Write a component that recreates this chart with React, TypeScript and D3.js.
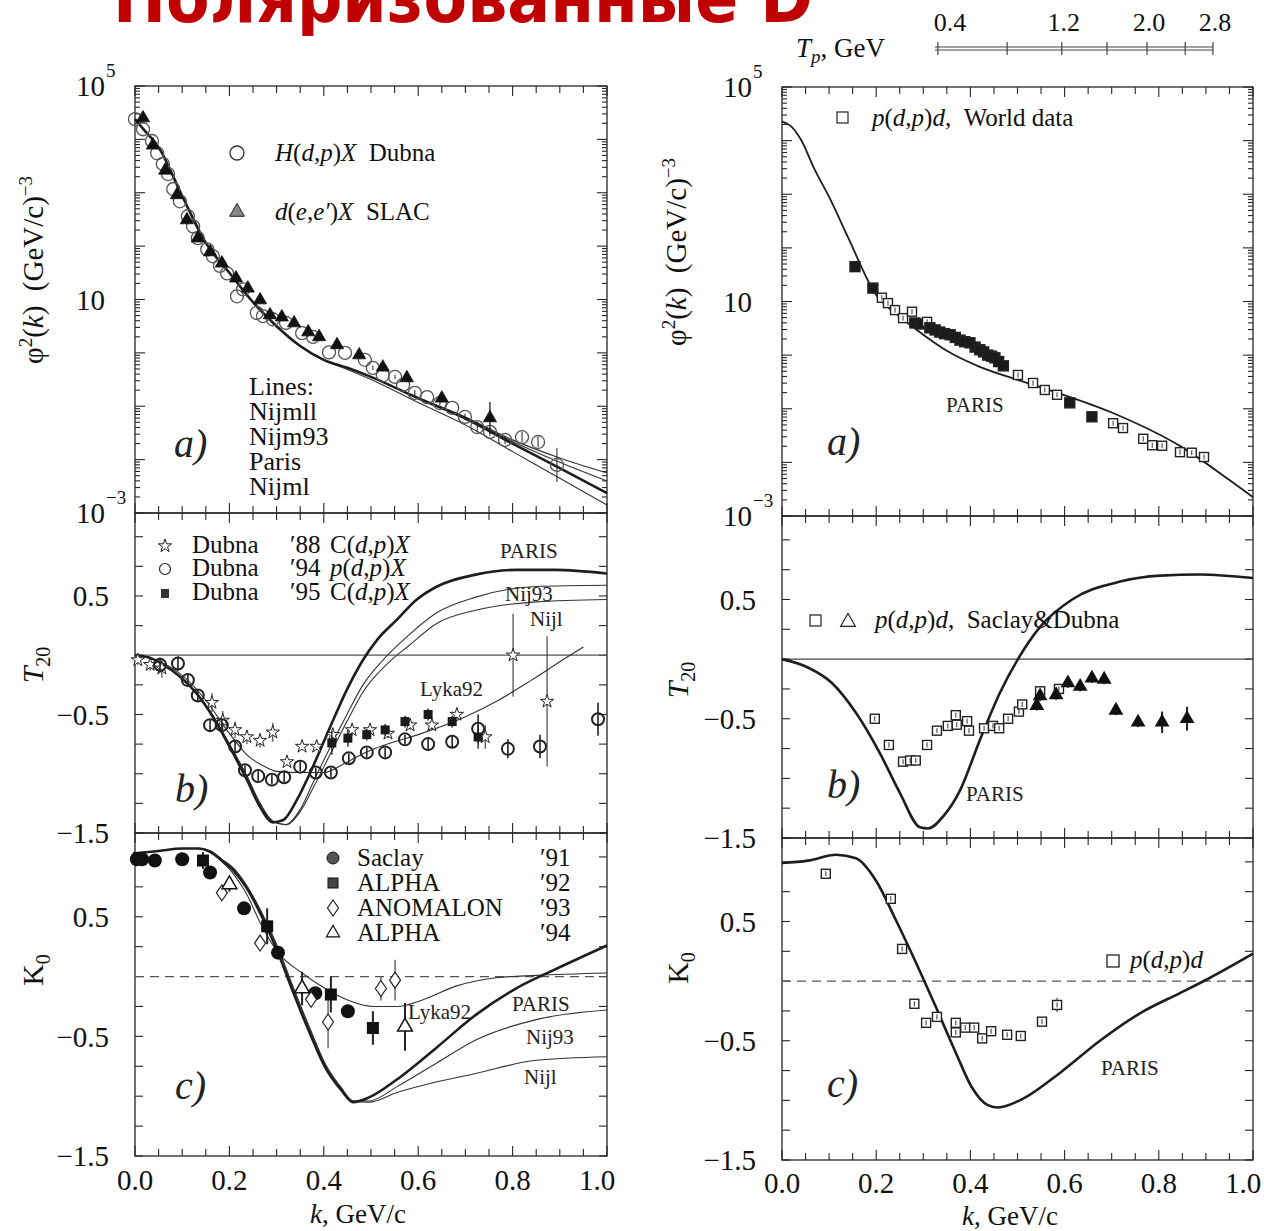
import React from "react";
import * as d3 from "d3";

const FONT = "'Liberation Serif','Times New Roman',serif";
const INK = "#262626";

// ===================== DATA =====================
// ---- Left (a): φ²(k), values given as log10 ----
const kLA = [0, 0.02, 0.05, 0.1, 0.15, 0.2, 0.25, 0.3, 0.35, 0.4, 0.45, 0.5, 0.6, 0.7, 0.8, 0.9, 1.0];
const parisLA = [4.38, 4.17, 3.85, 2.94, 2.06, 1.5, 0.95, 0.5, 0.13, -0.13, -0.28, -0.45, -0.85, -1.23, -1.7, -2.16, -2.63];
const nijmlLA = [4.38, 4.17, 3.85, 2.94, 2.06, 1.5, 0.95, 0.5, 0.13, -0.14, -0.31, -0.5, -0.93, -1.35, -1.85, -2.35, -2.85];
const nijm93LA = [4.38, 4.17, 3.85, 2.94, 2.06, 1.5, 0.95, 0.5, 0.13, -0.13, -0.28, -0.45, -0.84, -1.21, -1.66, -2.05, -2.4];
const nijmllLA = [4.38, 4.17, 3.85, 2.94, 2.06, 1.5, 0.95, 0.5, 0.13, -0.13, -0.28, -0.45, -0.84, -1.2, -1.63, -1.97, -2.25];

const dubnaK = [0.0, 0.017, 0.036, 0.047, 0.059, 0.07, 0.081, 0.095, 0.112, 0.123, 0.133, 0.153, 0.165, 0.18, 0.195, 0.216, 0.229, 0.258, 0.271, 0.292, 0.32, 0.354, 0.377, 0.411, 0.445, 0.487, 0.504, 0.525, 0.551, 0.568, 0.593, 0.619, 0.646, 0.672, 0.699, 0.725, 0.752, 0.784, 0.82, 0.854, 0.894];
const dubnaLog = [4.38, 4.19, 3.97, 3.74, 3.54, 3.35, 3.07, 2.84, 2.56, 2.37, 2.15, 1.94, 1.81, 1.63, 1.49, 1.06, 1.19, 0.75, 0.69, 0.63, 0.56, 0.37, 0.3, 0.01, 0.0, -0.13, -0.28, -0.42, -0.45, -0.6, -0.75, -0.83, -0.94, -1.03, -1.2, -1.39, -1.48, -1.63, -1.58, -1.67, -2.1];
const dubnaErr = [0, 0, 0, 0, 0, 0, 0, 0, 0, 0, 0, 0, 0, 0, 0, 0, 0, 0, 0, 0, 0, 0, 0, 0, 0, 0, 0.04, 0, 0.04, 0, 0.05, 0, 0.05, 0, 0.06, 0.1, 0.08, 0.08, 0.1, 0.1, 0.32];

const slacK = [0.017, 0.038, 0.064, 0.089, 0.11, 0.133, 0.159, 0.184, 0.214, 0.239, 0.265, 0.286, 0.311, 0.337, 0.367, 0.39, 0.428, 0.475, 0.525, 0.576, 0.65, 0.752];
const slacLog = [4.4, 3.89, 3.42, 2.96, 2.49, 2.15, 1.89, 1.68, 1.4, 1.21, 0.99, 0.71, 0.67, 0.56, 0.39, 0.3, 0.15, -0.04, -0.27, -0.47, -0.85, -1.22];
const slacErr = [0, 0, 0, 0, 0, 0, 0, 0, 0, 0, 0, 0, 0, 0, 0, 0, 0, 0, 0, 0, 0.08, 0.3];

// ---- Right (a) ----
const kRA = [0, 0.02, 0.04, 0.07, 0.1, 0.14, 0.2, 0.25, 0.3, 0.35, 0.42, 0.5, 0.56, 0.7, 0.85, 0.95, 1.0];
const parisRA = [4.36, 4.26, 4.02, 3.45, 2.95, 2.2, 1.12, 0.72, 0.38, 0.08, -0.22, -0.46, -0.63, -1.07, -1.72, -2.33, -2.65];
const worldK = [0.155, 0.193, 0.212, 0.225, 0.24, 0.257, 0.276, 0.282, 0.295, 0.308, 0.314, 0.325, 0.335, 0.345, 0.357, 0.368, 0.378, 0.388, 0.399, 0.41, 0.42, 0.428, 0.437, 0.445, 0.452, 0.46, 0.47, 0.501, 0.533, 0.558, 0.584, 0.611, 0.658, 0.703, 0.724, 0.767, 0.786, 0.807, 0.845, 0.87, 0.896];
const worldLog = [1.65, 1.25, 1.07, 0.97, 0.84, 0.69, 0.81, 0.6, 0.58, 0.62, 0.51, 0.47, 0.43, 0.4, 0.38, 0.33, 0.28, 0.25, 0.23, 0.15, 0.1, 0.06, 0.0, -0.02, -0.05, -0.12, -0.2, -0.37, -0.52, -0.65, -0.74, -0.89, -1.15, -1.27, -1.36, -1.56, -1.68, -1.69, -1.81, -1.82, -1.9];
const worldFilled = [1, 1, 0, 0, 0, 0, 0, 1, 1, 0, 1, 1, 1, 1, 1, 1, 1, 1, 1, 1, 1, 1, 1, 1, 1, 1, 1, 0, 0, 0, 0, 1, 1, 0, 0, 0, 0, 0, 0, 0, 0];

// ---- Left (b): T20 ----
const kParisLB = [0, 0.03, 0.06, 0.095, 0.13, 0.165, 0.2, 0.237, 0.265, 0.292, 0.314, 0.343, 0.377, 0.413, 0.449, 0.483, 0.513, 0.555, 0.597, 0.64, 0.722, 0.807, 0.89, 1.0];
const parisLB = [0, -0.02, -0.08, -0.18, -0.32, -0.52, -0.77, -1.05, -1.28, -1.41, -1.39, -1.22, -0.94, -0.61, -0.29, -0.04, 0.13, 0.3, 0.47, 0.58, 0.68, 0.72, 0.72, 0.69];
const kNijLB = [0, 0.03, 0.06, 0.095, 0.13, 0.165, 0.2, 0.237, 0.265, 0.292, 0.32, 0.35, 0.38, 0.413, 0.449, 0.483, 0.535, 0.58, 0.64, 0.722, 0.85, 1.0];
const nij93LB = [0, -0.02, -0.08, -0.18, -0.32, -0.51, -0.75, -1.02, -1.25, -1.4, -1.43, -1.3, -1.05, -0.78, -0.5, -0.25, 0.0, 0.17, 0.36, 0.49, 0.58, 0.59];
const nijlLB = [0, -0.02, -0.08, -0.18, -0.32, -0.51, -0.75, -1.02, -1.25, -1.4, -1.43, -1.32, -1.1, -0.84, -0.56, -0.31, -0.07, 0.08, 0.27, 0.38, 0.45, 0.47];
const kLykaLB = [0, 0.05, 0.1, 0.15, 0.2, 0.237, 0.27, 0.3, 0.35, 0.4, 0.45, 0.5, 0.55, 0.6, 0.7, 0.77, 0.84, 0.91, 0.95];
const lykaLB = [0, -0.05, -0.17, -0.38, -0.66, -0.84, -0.93, -0.98, -0.99, -0.99, -0.9, -0.8, -0.73, -0.67, -0.52, -0.38, -0.21, -0.03, 0.07];

const d88K = [0.006, 0.032, 0.057, 0.163, 0.186, 0.212, 0.237, 0.265, 0.292, 0.322, 0.354, 0.385, 0.419, 0.46, 0.498, 0.536, 0.583, 0.629, 0.682, 0.742, 0.801, 0.873];
const d88V = [-0.04, -0.08, -0.11, -0.4, -0.55, -0.63, -0.69, -0.72, -0.65, -0.9, -0.77, -0.77, -0.67, -0.63, -0.63, -0.66, -0.59, -0.59, -0.5, -0.69, 0.0, -0.39];
const d88E = [0.04, 0.05, 0.08, 0.08, 0.08, 0.07, 0.06, 0.06, 0.08, 0.03, 0.03, 0.03, 0.05, 0.05, 0.05, 0.04, 0.04, 0.04, 0.04, 0.1, 0.35, 0.55];
const d94K = [0.053, 0.091, 0.112, 0.133, 0.159, 0.184, 0.212, 0.233, 0.261, 0.29, 0.316, 0.35, 0.383, 0.415, 0.453, 0.491, 0.53, 0.572, 0.621, 0.672, 0.727, 0.79, 0.858, 0.981];
const d94V = [-0.08, -0.07, -0.21, -0.34, -0.59, -0.59, -0.77, -0.97, -1.02, -1.05, -1.03, -0.94, -0.99, -0.99, -0.87, -0.82, -0.82, -0.71, -0.75, -0.73, -0.62, -0.79, -0.77, -0.54];
const d94E = [0.06, 0.06, 0.05, 0.05, 0.05, 0.05, 0.05, 0.04, 0.04, 0.04, 0.04, 0.04, 0.04, 0.04, 0.04, 0.04, 0.04, 0.04, 0.05, 0.05, 0.12, 0.08, 0.1, 0.14];
const d95K = [0.417, 0.451, 0.491, 0.53, 0.572, 0.621, 0.672, 0.727];
const d95V = [-0.74, -0.7, -0.67, -0.63, -0.56, -0.5, -0.56, -0.69];
const d95E = [0.1, 0.07, 0.05, 0.05, 0.05, 0.05, 0.05, 0.1];

// ---- Right (b) ----
const kParisRB = [0, 0.055, 0.106, 0.157, 0.208, 0.25, 0.293, 0.31, 0.344, 0.378, 0.42, 0.463, 0.501, 0.548, 0.616, 0.718, 0.803, 0.887, 1.0];
const parisRB = [0, -0.07, -0.2, -0.45, -0.79, -1.12, -1.41, -1.42, -1.31, -1.1, -0.68, -0.28, 0.0, 0.27, 0.5, 0.65, 0.7, 0.71, 0.68];
const saclayBK = [0.197, 0.227, 0.257, 0.272, 0.284, 0.308, 0.329, 0.352, 0.369, 0.371, 0.393, 0.397, 0.429, 0.448, 0.461, 0.48, 0.503, 0.51, 0.548, 0.588];
const saclayBV = [-0.5, -0.72, -0.86, -0.85, -0.85, -0.72, -0.6, -0.56, -0.47, -0.55, -0.52, -0.6, -0.58, -0.56, -0.58, -0.5, -0.44, -0.38, -0.27, -0.25];
const dubnaBK = [0.541, 0.548, 0.582, 0.607, 0.633, 0.658, 0.684, 0.709, 0.756, 0.807, 0.86];
const dubnaBV = [-0.39, -0.31, -0.3, -0.2, -0.23, -0.16, -0.17, -0.43, -0.53, -0.53, -0.5];
const dubnaBE = [0.04, 0.04, 0.04, 0.04, 0.04, 0.04, 0.04, 0.04, 0.04, 0.09, 0.1];

// ---- Left (c): K0 ----
const kParisLC = [0, 0.05, 0.1, 0.134, 0.16, 0.184, 0.21, 0.235, 0.269, 0.303, 0.336, 0.37, 0.403, 0.437, 0.462, 0.496, 0.555, 0.64, 0.722, 0.807, 0.89, 1.0];
const parisLC = [1.03, 1.05, 1.07, 1.07, 1.04, 0.97, 0.88, 0.75, 0.5, 0.2, -0.14, -0.47, -0.76, -0.95, -1.05, -1.01, -0.86, -0.59, -0.32, -0.1, 0.06, 0.26];
const kNijLC = [0, 0.05, 0.1, 0.134, 0.16, 0.184, 0.21, 0.235, 0.269, 0.303, 0.336, 0.37, 0.403, 0.437, 0.462, 0.496, 0.555, 0.64, 0.722, 0.85, 1.0];
const nij93LC = [1.03, 1.05, 1.07, 1.07, 1.05, 0.98, 0.9, 0.77, 0.53, 0.24, -0.1, -0.43, -0.73, -0.93, -1.04, -1.04, -0.92, -0.72, -0.53, -0.36, -0.28];
const nijlLC = [1.03, 1.05, 1.07, 1.07, 1.05, 0.98, 0.9, 0.77, 0.53, 0.24, -0.1, -0.43, -0.73, -0.93, -1.04, -1.05, -0.97, -0.88, -0.81, -0.7, -0.67];
const kLykaLC = [0, 0.05, 0.1, 0.134, 0.16, 0.184, 0.21, 0.235, 0.269, 0.303, 0.354, 0.403, 0.453, 0.504, 0.555, 0.606, 0.68, 0.765, 0.85, 1.0];
const lykaLC = [1.03, 1.05, 1.07, 1.07, 1.04, 0.96, 0.85, 0.7, 0.42, 0.2, 0.03, -0.1, -0.2, -0.25, -0.25, -0.2, -0.08, -0.01, 0.01, 0.03];

const saclay91K = [0.004, 0.015, 0.042, 0.1, 0.159, 0.231, 0.303, 0.382, 0.451];
const saclay91V = [0.98, 0.98, 0.97, 0.98, 0.87, 0.57, 0.2, -0.14, -0.29];
const alpha92K = [0.008, 0.144, 0.28, 0.415, 0.504];
const alpha92V = [0.99, 0.97, 0.42, -0.15, -0.43];
const alpha92E = [0.04, 0.07, 0.15, 0.15, 0.14];
const anomK = [0.184, 0.265, 0.373, 0.409, 0.521, 0.551];
const anomV = [0.7, 0.28, -0.19, -0.38, -0.1, -0.03];
const anomE = [0.05, 0.04, 0.04, 0.22, 0.1, 0.17];
const alpha94K = [0.2, 0.354, 0.572];
const alpha94V = [0.77, -0.1, -0.42];
const alpha94E = [0.06, 0.14, 0.2];

// ---- Right (c) ----
const kParisRC = [0, 0.055, 0.115, 0.157, 0.2, 0.242, 0.285, 0.327, 0.369, 0.403, 0.437, 0.459, 0.505, 0.59, 0.675, 0.76, 0.845, 0.905, 1.0];
const parisRC = [0.99, 1.01, 1.06, 1.03, 0.84, 0.51, 0.15, -0.22, -0.6, -0.89, -1.04, -1.06, -1.0, -0.77, -0.5, -0.27, -0.1, 0.02, 0.23];
const pdpdK = [0.093, 0.231, 0.255, 0.281, 0.306, 0.329, 0.369, 0.369, 0.389, 0.408, 0.425, 0.444, 0.478, 0.507, 0.552, 0.584];
const pdpdV = [0.9, 0.69, 0.27, -0.19, -0.35, -0.3, -0.35, -0.43, -0.39, -0.39, -0.48, -0.42, -0.45, -0.46, -0.34, -0.2];
const pdpdE = [0.02, 0.02, 0.02, 0.02, 0.02, 0.02, 0.02, 0.02, 0.02, 0.02, 0.02, 0.02, 0.03, 0.02, 0.03, 0.06];

// ---- axis tick labels ----
const kTickLabels = [0, 0.2, 0.4, 0.6, 0.8, 1.0];
const linTickLabels = [0.5, -0.5, -1.5];
const logTickExps = [5, 1, -3];
const tpTickValues = [0.4, 0.8, 1.2, 1.6, 2.0, 2.4, 2.8];
const tpTickK = [0.331, 0.478, 0.594, 0.69, 0.775, 0.856, 0.915];
const tpTickLabels = ["0.4", "", "1.2", "", "2.0", "", "2.8"];

// ===================== SCALES =====================
const xL = d3.scaleLinear().domain([0, 1]).range([135, 607]);
const xR = d3.scaleLinear().domain([0, 1]).range([782, 1253]);
const yLA = d3.scaleLog().domain([1e-3, 1e5]).range([513, 86]);
const yLB = d3.scaleLinear().domain([-1.5, 1.2]).range([833, 513]);
const yLC = d3.scaleLinear().domain([-1.5, 1.2]).range([1156, 833]);
const yRA = d3.scaleLog().domain([1e-3, 1e5]).range([516, 87]);
const yRB = d3.scaleLinear().domain([-1.5, 1.2]).range([838, 516]);
const yRC = d3.scaleLinear().domain([-1.5, 1.2]).range([1160, 838]);

const p10 = (v: number) => Math.pow(10, v);

function curve(ks: number[], vs: number[], xs: any, ys: any, isLog = false) {
  const pts: [number, number][] = ks.map((k, i) => [xs(k), ys(isLog ? p10(vs[i]) : vs[i])]);
  return d3.line().curve(d3.curveMonotoneX)(pts) || "";
}

const fmt = (v: number) => (v < 0 ? "\u2212" + Math.abs(v).toFixed(1) : v.toFixed(1));

const starPath = d3.symbol().type(d3.symbolStar).size(55)() || "";
const triPathS = d3.symbol().type(d3.symbolTriangle).size(75)() || "";
const triPathM = d3.symbol().type(d3.symbolTriangle).size(95)() || "";

// ===================== FRAME =====================
function Frame({ xs, ys, log, id, bottomLabels, bottomY }: any) {
  const [x0, x1] = xs.range();
  const yb = ys.range()[0];
  const yt = ys.range()[1];
  const els: any[] = [];
  for (let i = 0; i <= 20; i++) {
    const x = xs(i * 0.05);
    const len = i % 4 === 0 ? 10 : 7;
    els.push(<line key={id + "xt" + i} x1={x} x2={x} y1={yt} y2={yt + len} />);
    els.push(<line key={id + "xb" + i} x1={x} x2={x} y1={yb} y2={yb - len} />);
  }
  if (log) {
    for (let e = -3; e <= 5; e++) {
      const y = ys(p10(e));
      els.push(<line key={id + "ly" + e} x1={x0} x2={x0 + 10} y1={y} y2={y} />);
      els.push(<line key={id + "ry" + e} x1={x1} x2={x1 - 10} y1={y} y2={y} />);
      if (e < 5) {
        for (let m = 2; m <= 9; m++) {
          const ym = ys(m * p10(e));
          els.push(<line key={id + "lm" + e + m} x1={x0} x2={x0 + 5} y1={ym} y2={ym} />);
          els.push(<line key={id + "rm" + e + m} x1={x1} x2={x1 - 5} y1={ym} y2={ym} />);
        }
      }
    }
  } else {
    for (let i = 0; i <= 10; i++) {
      const y = ys(-1.5 + i * 0.25);
      els.push(<line key={id + "ly" + i} x1={x0} x2={x0 + 8} y1={y} y2={y} />);
      els.push(<line key={id + "ry" + i} x1={x1} x2={x1 - 8} y1={y} y2={y} />);
    }
  }
  const labels: any[] = [];
  if (log) {
    logTickExps.forEach((e) => {
      const y = ys(p10(e));
      labels.push(
        <text key={id + "lb" + e} x={x0 - 30} y={y} dy="0.35em" textAnchor="end" fontSize={29}>10</text>
      );
      if (e !== 1)
        labels.push(
          <text key={id + "ls" + e} x={x0 - 29} y={y - 9} fontSize={19}>{e < 0 ? "\u2212" + -e : String(e)}</text>
        );
    });
  } else {
    linTickLabels.forEach((v) =>
      labels.push(
        <text key={id + "lb" + v} x={x0 - 26} y={ys(v)} dy="0.35em" textAnchor="end" fontSize={29}>{fmt(v)}</text>
      )
    );
  }
  if (bottomLabels) {
    kTickLabels.forEach((v, i) =>
      labels.push(
        <text key={id + "bl" + v} x={xs(v) - (i === kTickLabels.length - 1 ? 10 : 0)} y={bottomY} textAnchor="middle" fontSize={29}>{v.toFixed(1)}</text>
      )
    );
  }
  return (
    <g>
      <rect x={x0} y={yt} width={x1 - x0} height={yb - yt} fill="none" stroke={INK} strokeWidth={1.3} />
      <g stroke={INK} strokeWidth={1.1}>{els}</g>
      <g fill="#111">{labels}</g>
    </g>
  );
}

// ===================== MARKERS =====================
function ErrBar({ x, y1, y2, w = 1.2 }: any) {
  return <line x1={x} x2={x} y1={y1} y2={y2} stroke="#222" strokeWidth={w} />;
}

function OpenCircle({ x, y, r = 6.5, c = "#555" }: any) {
  return <circle cx={x} cy={y} r={r} fill="none" stroke={c} strokeWidth={1.3} />;
}

function Square({ x, y, s = 9, filled = false }: any) {
  return (
    <g>
      <rect x={x - s / 2} y={y - s / 2} width={s} height={s} fill={filled ? "#1a1a1a" : "#fff"} stroke="#222" strokeWidth={1.4} />
      {!filled && <line x1={x} x2={x} y1={y - s / 2 + 2} y2={y + s / 2 - 2} stroke="#333" strokeWidth={1} />}
    </g>
  );
}

function Diamond({ x, y }: any) {
  return <path d={`M${x},${y - 8}L${x + 5.5},${y}L${x},${y + 8}L${x - 5.5},${y}Z`} fill="#fff" stroke="#222" strokeWidth={1.2} />;
}

// ===================== APP =====================
export default function App() {
  const thick = { fill: "none", stroke: "#1e1e1e", strokeWidth: 2.6 };
  const thin = { fill: "none", stroke: "#333", strokeWidth: 1.1 };
  const lblSmall = { fontSize: 21, fill: "#222" };
  const legend = { fontSize: 25, fill: "#111" };
  const it = { fontStyle: "italic" as const };
  const panelLbl = { fontSize: 40, fontStyle: "italic" as const, fill: "#222" };

  return (
    <svg width={1264} height={1231} viewBox="0 0 1264 1231" style={{ position: "absolute", left: 0, top: 0, display: "block" }} fontFamily={FONT}>
      <rect x={0} y={0} width={1264} height={1231} fill="#fff" />

      {/* Title */}
      <text x={113} y={22} fontFamily="'DejaVu Sans', 'Noto Sans', sans-serif" fontWeight="bold" fontSize={70} fill="#c00000" textLength={700} lengthAdjust="spacingAndGlyphs">
        Поляризованные D
      </text>

      {/* Tp axis */}
      <g>
        <line x1={xR(tpTickK[0]) - 3} x2={xR(tpTickK[tpTickK.length - 1])} y1={47} y2={47} stroke="#444" strokeWidth={1} />
        <line x1={xR(tpTickK[0]) - 3} x2={xR(tpTickK[tpTickK.length - 1])} y1={50} y2={50} stroke="#444" strokeWidth={1} />
        {tpTickValues.map((v, i) => (
          <line key={"tp" + v} x1={xR(tpTickK[i])} x2={xR(tpTickK[i])} y1={42} y2={55} stroke="#333" strokeWidth={1.1} />
        ))}
        {tpTickLabels.map((l, i) =>
          l ? (
            <text key={"tpl" + i} x={xR(tpTickK[i]) + (i === 0 ? 12 : 2)} y={31} textAnchor="middle" fontSize={26} fill="#111">{l}</text>
          ) : null
        )}
        <text x={796} y={57} fontSize={27} fill="#111">
          <tspan {...it}>T</tspan>
          <tspan {...it} fontSize={19} dy={6}>p</tspan>
          <tspan dy={-6}>, GeV</tspan>
        </text>
      </g>

      {/* ================= LEFT PANELS ================= */}
      <Frame xs={xL} ys={yLA} log id="la" />
      <Frame xs={xL} ys={yLB} id="lb" />
      <Frame xs={xL} ys={yLC} id="lc" bottomLabels bottomY={1190} />

      {/* Left a */}
      <g>
        <path d={curve(kLA, nijmlLA, xL, yLA, true)} {...thin} />
        <path d={curve(kLA, nijm93LA, xL, yLA, true)} {...thin} />
        <path d={curve(kLA, nijmllLA, xL, yLA, true)} {...thin} />
        <path d={curve(kLA, parisLA, xL, yLA, true)} {...thick} />
        {dubnaK.map((k, i) => (
          <g key={"dc" + i}>
            {dubnaErr[i] > 0 && <ErrBar x={xL(k)} y1={yLA(p10(dubnaLog[i] - dubnaErr[i]))} y2={yLA(p10(dubnaLog[i] + dubnaErr[i]))} w={1} />}
            <OpenCircle x={xL(k)} y={yLA(p10(dubnaLog[i]))} r={6.5} />
          </g>
        ))}
        {slacK.map((k, i) => (
          <g key={"st" + i}>
            {slacErr[i] > 0 && <ErrBar x={xL(k)} y1={yLA(p10(slacLog[i] - slacErr[i]))} y2={yLA(p10(slacLog[i] + slacErr[i]))} w={1.3} />}
            <path d={triPathS} transform={`translate(${xL(k)},${yLA(p10(slacLog[i]))})`} fill="#111" stroke="#111" strokeWidth={0.8} />
          </g>
        ))}
        <OpenCircle x={237} y={153} r={7} c="#333" />
        <text x={275} y={161} {...legend}>
          <tspan {...it}>H</tspan>(<tspan {...it}>d</tspan>,<tspan {...it}>p</tspan>)<tspan {...it}>X</tspan>{"\u00A0\u00A0"}Dubna
        </text>
        <path d={triPathM} transform="translate(237,212)" fill="#888" stroke="#222" strokeWidth={1} />
        <text x={275} y={220} {...legend}>
          <tspan {...it}>d</tspan>(<tspan {...it}>e</tspan>,<tspan {...it}>e′</tspan>)<tspan {...it}>X</tspan>{"\u00A0\u00A0"}SLAC
        </text>
        <g fontSize={26} fill="#111">
          <text x={249} y={395}>Lines:</text>
          <text x={249} y={420}>Nijmll</text>
          <text x={249} y={445}>Nijm93</text>
          <text x={249} y={470}>Paris</text>
          <text x={249} y={495}>Nijml</text>
        </g>
        <text x={174} y={457} {...panelLbl}>a)</text>
      </g>

      {/* Left b */}
      <g>
        <line x1={xL(0)} x2={xL(1)} y1={yLB(0)} y2={yLB(0)} stroke="#555" strokeWidth={1.3} />
        <path d={curve(kLykaLB, lykaLB, xL, yLB)} {...thin} />
        <path d={curve(kNijLB, nijlLB, xL, yLB)} {...thin} />
        <path d={curve(kNijLB, nij93LB, xL, yLB)} {...thin} />
        <path d={curve(kParisLB, parisLB, xL, yLB)} {...thick} />
        {d88K.map((k, i) => (
          <g key={"s88" + i}>
            <ErrBar x={xL(k)} y1={yLB(d88V[i] - d88E[i])} y2={yLB(d88V[i] + d88E[i])} w={1} />
            <path d={starPath} transform={`translate(${xL(k)},${yLB(d88V[i])})`} fill="#fff" stroke="#222" strokeWidth={1} />
          </g>
        ))}
        {d94K.map((k, i) => (
          <g key={"c94" + i}>
            <ErrBar x={xL(k)} y1={yLB(d94V[i] - d94E[i])} y2={yLB(d94V[i] + d94E[i])} w={1.6} />
            <circle cx={xL(k)} cy={yLB(d94V[i])} r={6} fill="none" stroke="#222" strokeWidth={2} />
          </g>
        ))}
        {d95K.map((k, i) => (
          <g key={"q95" + i}>
            <ErrBar x={xL(k)} y1={yLB(d95V[i] - d95E[i])} y2={yLB(d95V[i] + d95E[i])} w={1.4} />
            <rect x={xL(k) - 4.5} y={yLB(d95V[i]) - 4.5} width={9} height={9} fill="#1a1a1a" />
          </g>
        ))}
        <path d={starPath} transform="translate(165,546)" fill="#fff" stroke="#222" strokeWidth={1} />
        <circle cx={165} cy={569} r={5.5} fill="none" stroke="#222" strokeWidth={1.2} />
        <rect x={161} y={589} width={8} height={9} fill="#333" />
        <g {...legend}>
          <text x={192} y={553}>Dubna</text>
          <text x={290} y={553}>′88</text>
          <text x={330} y={553}>C(<tspan {...it}>d</tspan>,<tspan {...it}>p</tspan>)<tspan {...it}>X</tspan></text>
          <text x={192} y={576}>Dubna</text>
          <text x={290} y={576}>′94</text>
          <text x={330} y={576}><tspan {...it}>p</tspan>(<tspan {...it}>d</tspan>,<tspan {...it}>p</tspan>)<tspan {...it}>X</tspan></text>
          <text x={192} y={600}>Dubna</text>
          <text x={290} y={600}>′95</text>
          <text x={330} y={600}>C(<tspan {...it}>d</tspan>,<tspan {...it}>p</tspan>)<tspan {...it}>X</tspan></text>
        </g>
        <text x={500} y={558} {...lblSmall}>PARIS</text>
        <text x={505} y={601} {...lblSmall}>Nij93</text>
        <text x={530} y={626} {...lblSmall}>Nijl</text>
        <text x={420} y={696} {...lblSmall}>Lyka92</text>
        <text x={175} y={802} {...panelLbl}>b)</text>
      </g>

      {/* Left c */}
      <g>
        <line x1={xL(0)} x2={xL(1)} y1={yLC(0)} y2={yLC(0)} stroke="#555" strokeWidth={1.2} strokeDasharray="9,6" />
        <path d={curve(kLykaLC, lykaLC, xL, yLC)} {...thin} />
        <path d={curve(kNijLC, nijlLC, xL, yLC)} {...thin} />
        <path d={curve(kNijLC, nij93LC, xL, yLC)} {...thin} />
        <path d={curve(kParisLC, parisLC, xL, yLC)} {...thick} />
        {saclay91K.map((k, i) => (
          <circle key={"sc" + i} cx={xL(k)} cy={yLC(saclay91V[i])} r={7} fill="#111" />
        ))}
        {alpha92K.map((k, i) => (
          <g key={"a92" + i}>
            <ErrBar x={xL(k)} y1={yLC(alpha92V[i] - alpha92E[i])} y2={yLC(alpha92V[i] + alpha92E[i])} w={2} />
            <rect x={xL(k) - 6} y={yLC(alpha92V[i]) - 6} width={12} height={12} fill="#111" />
          </g>
        ))}
        {anomK.map((k, i) => (
          <g key={"an" + i}>
            <ErrBar x={xL(k)} y1={yLC(anomV[i] - anomE[i])} y2={yLC(anomV[i] + anomE[i])} w={1} />
            <Diamond x={xL(k)} y={yLC(anomV[i])} />
          </g>
        ))}
        {alpha94K.map((k, i) => (
          <g key={"a94" + i}>
            <ErrBar x={xL(k)} y1={yLC(alpha94V[i] - alpha94E[i])} y2={yLC(alpha94V[i] + alpha94E[i])} w={2} />
            <path d={triPathM} transform={`translate(${xL(k)},${yLC(alpha94V[i])})`} fill="#fff" stroke="#111" strokeWidth={1.5} />
          </g>
        ))}
        <circle cx={333} cy={858} r={6} fill="#555" stroke="#111" />
        <rect x={328} y={878} width={10} height={10} fill="#444" stroke="#111" />
        <Diamond x={333} y={908} />
        <path d={triPathS} transform="translate(333,933)" fill="#fff" stroke="#111" strokeWidth={1.2} />
        <g {...legend}>
          <text x={357} y={866}>Saclay</text>
          <text x={540} y={866}>′91</text>
          <text x={357} y={891}>ALPHA</text>
          <text x={540} y={891}>′92</text>
          <text x={357} y={916}>ANOMALON</text>
          <text x={540} y={916}>′93</text>
          <text x={357} y={941}>ALPHA</text>
          <text x={540} y={941}>′94</text>
        </g>
        <text x={512} y={1011} {...lblSmall}>PARIS</text>
        <text x={526} y={1044} {...lblSmall}>Nij93</text>
        <text x={524} y={1084} {...lblSmall}>Nijl</text>
        <text x={408} y={1019} {...lblSmall}>Lyka92</text>
        <text x={175} y={1099} {...panelLbl}>c)</text>
        <text x={358} y={1223} textAnchor="middle" fontSize={27} fill="#111"><tspan {...it}>k</tspan>, GeV/c</text>
      </g>

      {/* Left axis titles */}
      <text transform="translate(43,270) rotate(-90)" textAnchor="middle" fontSize={29} fill="#111">
        φ<tspan fontSize={19} dy={-11}>2</tspan><tspan dy={11}>(</tspan><tspan {...it}>k</tspan>){"\u00A0\u00A0"}(GeV/c)<tspan fontSize={19} dy={-11}>−3</tspan>
      </text>
      <text transform="translate(43,665) rotate(-90)" textAnchor="middle" fontSize={30} fill="#111">
        <tspan {...it}>T</tspan><tspan fontSize={20} dy={7}>20</tspan>
      </text>
      <text transform="translate(43,970) rotate(-90)" textAnchor="middle" fontSize={30} fill="#111">
        K<tspan fontSize={20} dy={7}>0</tspan>
      </text>

      {/* ================= RIGHT PANELS ================= */}
      <Frame xs={xR} ys={yRA} log id="ra" />
      <Frame xs={xR} ys={yRB} id="rb" />
      <Frame xs={xR} ys={yRC} id="rc" bottomLabels bottomY={1193} />

      {/* Right a */}
      <g>
        <path d={curve(kRA, parisRA, xR, yRA, true)} fill="none" stroke="#1e1e1e" strokeWidth={1.8} />
        {worldK.map((k, i) => (
          <Square key={"wd" + i} x={xR(k)} y={yRA(p10(worldLog[i]))} s={worldFilled[i] ? 10 : 9} filled={!!worldFilled[i]} />
        ))}
        <rect x={837} y={112} width={11} height={11} fill="#fff" stroke="#222" strokeWidth={1.2} />
        <text x={872} y={126} {...legend}>
          <tspan {...it}>p</tspan>(<tspan {...it}>d</tspan>,<tspan {...it}>p</tspan>)<tspan {...it}>d</tspan>,{"\u00A0\u00A0"}World data
        </text>
        <text x={946} y={412} {...lblSmall}>PARIS</text>
        <text x={827} y={455} {...panelLbl}>a)</text>
      </g>

      {/* Right b */}
      <g>
        <line x1={xR(0)} x2={xR(1)} y1={yRB(0)} y2={yRB(0)} stroke="#444" strokeWidth={1.2} />
        <path d={curve(kParisRB, parisRB, xR, yRB)} fill="none" stroke="#1e1e1e" strokeWidth={2.6} />
        {saclayBK.map((k, i) => (
          <Square key={"sb" + i} x={xR(k)} y={yRB(saclayBV[i])} s={9} />
        ))}
        {dubnaBK.map((k, i) => (
          <g key={"tb" + i}>
            <ErrBar x={xR(k)} y1={yRB(dubnaBV[i] - dubnaBE[i])} y2={yRB(dubnaBV[i] + dubnaBE[i])} w={2} />
            <path d={triPathM} transform={`translate(${xR(k)},${yRB(dubnaBV[i])})`} fill="#111" />
          </g>
        ))}
        <rect x={810} y={615} width={11} height={11} fill="#fff" stroke="#222" strokeWidth={1.2} />
        <path d={triPathM} transform="translate(848,622)" fill="#fff" stroke="#222" strokeWidth={1.2} />
        <text x={875} y={628} {...legend}>
          <tspan {...it}>p</tspan>(<tspan {...it}>d</tspan>,<tspan {...it}>p</tspan>)<tspan {...it}>d</tspan>,{"\u00A0\u00A0"}Saclay&amp;Dubna
        </text>
        <text x={966} y={801} {...lblSmall}>PARIS</text>
        <text x={827} y={798} {...panelLbl}>b)</text>
      </g>

      {/* Right c */}
      <g>
        <line x1={xR(0)} x2={xR(1)} y1={yRC(0)} y2={yRC(0)} stroke="#555" strokeWidth={1.2} strokeDasharray="9,6" />
        <path d={curve(kParisRC, parisRC, xR, yRC)} fill="none" stroke="#1e1e1e" strokeWidth={2.6} />
        {pdpdK.map((k, i) => (
          <g key={"pc" + i}>
            <ErrBar x={xR(k)} y1={yRC(pdpdV[i] - pdpdE[i])} y2={yRC(pdpdV[i] + pdpdE[i])} w={1} />
            <Square x={xR(k)} y={yRC(pdpdV[i])} s={9} />
          </g>
        ))}
        <rect x={1107} y={955} width={12} height={12} fill="#fff" stroke="#222" strokeWidth={1.3} />
        <text x={1130} y={968} {...legend}>
          <tspan {...it}>p</tspan>(<tspan {...it}>d</tspan>,<tspan {...it}>p</tspan>)<tspan {...it}>d</tspan>
        </text>
        <text x={1101} y={1075} {...lblSmall}>PARIS</text>
        <text x={827} y={1097} {...panelLbl}>c)</text>
        <text x={1010} y={1225} textAnchor="middle" fontSize={27} fill="#111"><tspan {...it}>k</tspan>, GeV/c</text>
      </g>

      {/* Right axis titles */}
      <text transform="translate(686,252) rotate(-90)" textAnchor="middle" fontSize={29} fill="#111">
        φ<tspan fontSize={19} dy={-11}>2</tspan><tspan dy={11}>(</tspan><tspan {...it}>k</tspan>){"\u00A0\u00A0"}(GeV/c)<tspan fontSize={19} dy={-11}>−3</tspan>
      </text>
      <text transform="translate(688,680) rotate(-90)" textAnchor="middle" fontSize={30} fill="#111">
        <tspan {...it}>T</tspan><tspan fontSize={20} dy={7}>20</tspan>
      </text>
      <text transform="translate(688,968) rotate(-90)" textAnchor="middle" fontSize={30} fill="#111">
        K<tspan fontSize={20} dy={7}>0</tspan>
      </text>
    </svg>
  );
}
